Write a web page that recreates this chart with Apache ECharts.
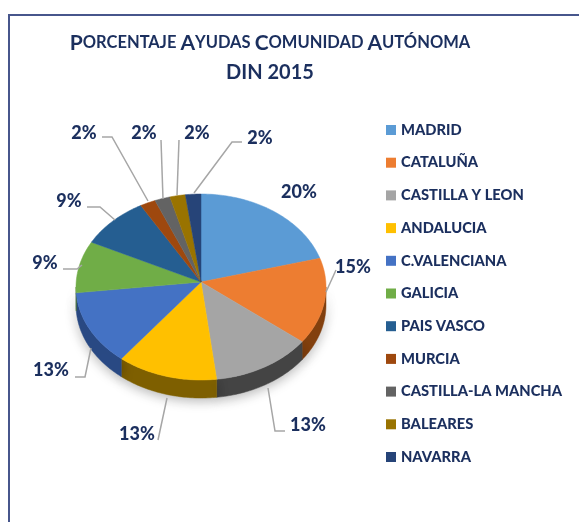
<!DOCTYPE html>
<html>
<head>
<meta charset="utf-8">
<style>
  html, body { margin: 0; padding: 0; background: #fff; }
  #chart { width: 579px; height: 522px; }
</style>
<script src="https://cdn.jsdelivr.net/npm/echarts@6/dist/echarts.min.js"></script>
</head>
<body>
<div id="chart"></div>
<script>
const categories = ['MADRID', 'CATALUÑA', 'CASTILLA Y LEON', 'ANDALUCIA', 'C.VALENCIANA', 'GALICIA', 'PAIS VASCO', 'MURCIA', 'CASTILLA-LA MANCHA', 'BALEARES', 'NAVARRA']
const values = [20, 15, 13, 13, 13, 9, 9, 2, 2, 2, 2]
const topColors = ['#5b9bd5', '#ed7d31', '#a5a5a5', '#ffc000', '#4472c4', '#70ad47', '#255e91', '#9e480e', '#636363', '#997300', '#264478']
const sideColors = ['#37648c', '#84410f', '#454545', '#7f6000', '#2a4a85', '#44702a', '#173a5a', '#5e2a08', '#3a3a3a', '#5a4400', '#16294a']

// where each percent label sits and how its leader line runs
const labelPos = [[299, 192], [353, 267], [308, 425], [137, 434], [51, 370], [45, 263], [69, 201], [84, 133], [144, 133], [197, 133], [260, 138]]
const leaders = [
  null,
  [[336, 270], [326, 292]],
  [[285, 431], [275, 431], [268, 388]],
  [[158, 440], [167, 398]],
  [[75, 377], [85, 377], [91, 348]],
  [[63, 269], [77, 269], [82, 265]],
  [[87, 207], [100, 207], [115, 220]],
  [[102, 137], [112, 137], [148, 201]],
  [[161, 140], [163, 199]],
  [[179, 140], [177, 195]],
  [[242, 142], [232, 142], [194, 193]]
]

const total = values.reduce((a, b) => a + b, 0)
const pie = { cx: 201, cy: 287, rx: 125, ry: 93, apexY: 282, depth: 18 }
const textColor = '#1b2f5e'
const fontName = 'Lato'

// point on the rim, angle in degrees clockwise from the top
function rim (deg, drop) {
  let a = deg * Math.PI / 180
  return [pie.cx + pie.rx * Math.sin(a), pie.cy - pie.ry * Math.cos(a) + (drop || 0)]
}

function arcPoints (from, to, drop) {
  let pts = []
  for (let d = from; d < to; d += 1) pts.push(rim(d, drop))
  pts.push(rim(to, drop))
  return pts
}

function drawSlice (idx) {
  return function (params, api) {
    let before = values.slice(0, idx).reduce((a, b) => a + b, 0)
    let start = before / total * 360
    let end = start + api.value(0) / total * 360
    let children = []
    let from = Math.max(start, 90)
    let to = Math.min(end, 270)
    if (from < to) {
      children.push({
        type: 'polygon',
        shape: { points: arcPoints(from, to, 0).concat(arcPoints(from, to, pie.depth).reverse()) },
        style: { fill: sideColors[idx], stroke: sideColors[idx], lineWidth: 0.5, shadowBlur: 12, shadowColor: 'rgba(0,0,0,0.28)', shadowOffsetY: 3 },
        z2: 1
      })
    }
    children.push({
      type: 'polygon',
      shape: { points: [[pie.cx, pie.apexY]].concat(arcPoints(start, end, 0)) },
      style: { fill: topColors[idx], stroke: topColors[idx], lineWidth: 0.5 },
      z2: 2
    })
    if (leaders[idx]) {
      children.push({
        type: 'polyline',
        shape: { points: leaders[idx] },
        style: { fill: 'none', stroke: '#a6a6a6', lineWidth: 1.5 },
        z2: 3
      })
    }
    children.push({
      type: 'text',
      x: labelPos[idx][0],
      y: labelPos[idx][1],
      style: {
        text: api.value(0) + '%',
        fill: textColor,
        font: '900 18px ' + fontName,
        align: 'center',
        verticalAlign: 'middle'
      },
      z2: 4
    })
    return { type: 'group', children: children }
  }
}

const myChart = echarts.init(document.getElementById('chart'), null, { renderer: 'canvas' })
const option = {
  animation: false,
  backgroundColor: '#fff',
  title: {
    text: '{b|P}{s|ORCENTAJE }{b|A}{s|YUDAS }{b|C}{s|OMUNIDAD }{b|A}{s|UTÓNOMA}\n{d|DIN 2015}',
    left: 265,
    top: 23,
    textAlign: 'center',
    textStyle: {
      rich: {
        b: { fontFamily: fontName, fontWeight: 'bold', fontSize: 21, color: textColor, lineHeight: 30 },
        s: { fontFamily: fontName, fontWeight: 'bold', fontSize: 16.5, color: textColor, lineHeight: 30 },
        d: { fontFamily: fontName, fontWeight: 'bold', fontSize: 20, color: textColor, lineHeight: 30 }
      }
    }
  },
  legend: {
    orient: 'vertical',
    left: 386,
    top: 122,
    padding: 0,
    itemWidth: 10,
    itemHeight: 10,
    itemGap: 16.7,
    data: categories.map(name => ({ name: name, icon: 'rect' })),
    textStyle: { color: textColor, fontFamily: fontName, fontWeight: 900, fontSize: 14.7, lineHeight: 16 },
    selectedMode: false
  },
  graphic: [{
    type: 'polyline',
    shape: { points: [[9, 522], [9, 15], [579, 15]] },
    style: { fill: 'none', stroke: '#47568c', lineWidth: 2 }
  }],
  series: categories.map((name, i) => ({
    name: name,
    type: 'custom',
    coordinateSystem: 'none',
    itemStyle: { color: topColors[i] },
    data: [[values[i]]],
    renderItem: drawSlice(i),
    clip: false
  }))
}
myChart.setOption(option, true)
</script>
</body>
</html>
